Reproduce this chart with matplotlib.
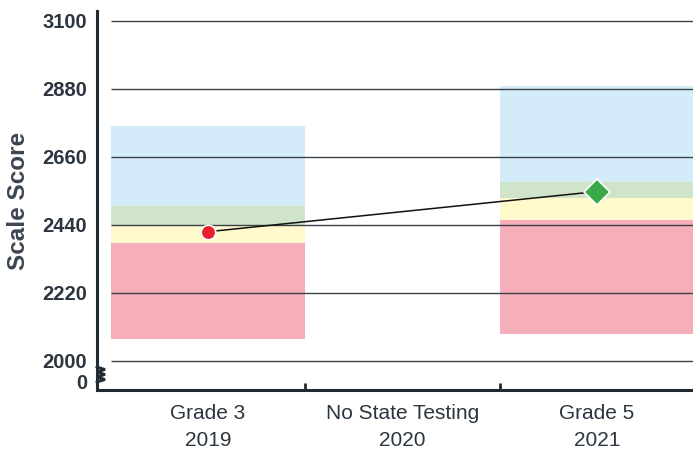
import numpy as np
import matplotlib
matplotlib.use("Agg")
import matplotlib.pyplot as plt
import matplotlib.ticker as ticker

plt.rcParams['font.family'] = ['Liberation Sans', 'DejaVu Sans']

# achievement level bands (bottom, level2, level3, level4, top)
grade3_levels = [2071, 2381, 2436, 2501, 2760]
grade5_levels = [2088, 2455, 2528, 2579, 2890]
band_colors = ['#f6afba', '#fff9cc', '#cfe4c9', '#d4ebf9']

categories = ['Grade 3\n2019', 'No State Testing\n2020', 'Grade 5\n2021']
score_x = [0, 2]
scores = [2418, 2548]

yticks = [2000, 2220, 2440, 2660, 2880, 3100]
fake_zero = 1935  # where the "0" label sits below the axis break

axis_col = '#1f2a33'
text_col = '#2b3640'

fig = plt.figure(figsize=(6.93, 4.53), dpi=100)
ax = fig.add_axes([97/693, 63/453, 596/693, 379/453])

for xpos, lv in zip([0, 2], [grade3_levels, grade5_levels]):
    for i in range(4):
        ax.bar(xpos, lv[i+1] - lv[i], bottom=lv[i], width=1.0,
               color=band_colors[i], linewidth=0, zorder=1)

ax.hlines(yticks, -0.5, 2.6, colors='#3c4147', linewidth=1.0, zorder=2)

ax.plot(score_x, scores, color='#111111', linewidth=1.1, zorder=3)
ax.plot(score_x[0], scores[0], 'o', markersize=10.5, color='#e8202f',
        markeredgecolor='white', markeredgewidth=1.2, zorder=4)
ax.plot(score_x[1], scores[1], 'D', markersize=13, color='#3aaa48',
        markeredgecolor='white', markeredgewidth=1.2, zorder=4)

ax.set_xlim(-0.571, 2.494)
ax.set_ylim(1906, 3132)

ax.set_yticks(yticks + [fake_zero])
ax.set_yticklabels([str(t) for t in yticks] + ['0'])
ax.tick_params(axis='y', length=0, pad=7, labelsize=14.5, labelcolor=text_col)
for lab in ax.get_yticklabels():
    lab.set_fontweight('bold')

ax.set_xticks([0, 1, 2])
ax.set_xticklabels(categories)
ax.xaxis.set_minor_locator(ticker.FixedLocator([0.5, 1.5]))
ax.tick_params(axis='x', which='major', length=0, pad=10, labelsize=15,
               labelcolor=text_col)
ax.tick_params(axis='x', which='minor', direction='in', length=5, width=2,
               color=axis_col)
for lab in ax.get_xticklabels():
    lab.set_linespacing(1.55)

ax.set_ylabel('Scale Score', fontsize=17.5, fontweight='bold', color='#3d4650',
              labelpad=9)

for s in ['top', 'right']:
    ax.spines[s].set_visible(False)
for s in ['left', 'bottom']:
    ax.spines[s].set_color(axis_col)
    ax.spines[s].set_linewidth(2.2)

# axis break zigzag
zx = np.array([0, 8, 0, 8, 0, 8, 0]) / 596
zy = (390 - np.array([367, 369.5, 372, 374.5, 377, 379.5, 382])) / 379
ax.plot(zx, zy, transform=ax.transAxes, color=axis_col, linewidth=2.0,
        clip_on=False, zorder=5, solid_joinstyle='miter')

fig.savefig('out.png', dpi=100)
